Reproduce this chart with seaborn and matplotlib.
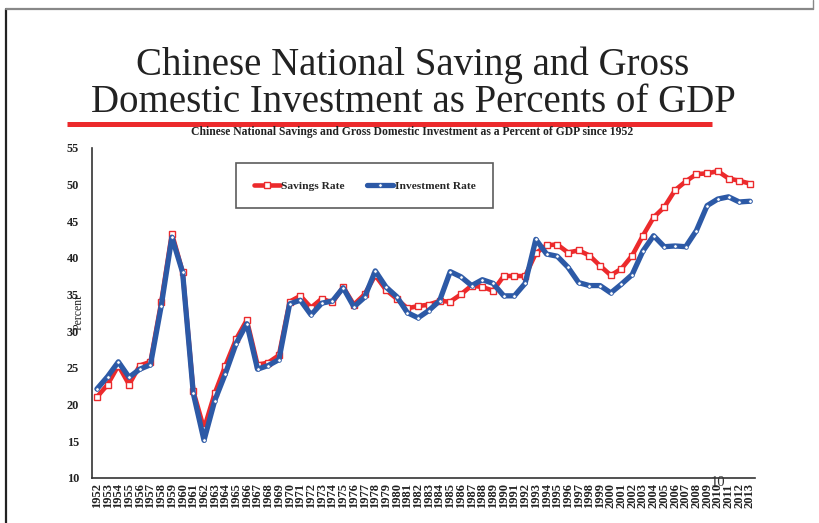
import numpy as np
import pandas as pd
import matplotlib
matplotlib.use("Agg")
import matplotlib.pyplot as plt
from matplotlib.lines import Line2D
import seaborn as sns

years = list(range(1952, 2014))

savings_rate = [
    21.0, 22.7, 25.3, 22.7, 25.3, 25.8, 33.9, 43.3, 38.1, 21.8,
    16.7, 21.5, 25.3, 28.9, 31.5, 25.4, 25.7, 26.7, 34.0, 34.8,
    33.2, 34.4, 33.9, 36.0, 33.6, 35.0, 37.6, 35.6, 34.4, 33.1,
    33.4, 33.6, 34.1, 34.0, 35.0, 36.2, 36.0, 35.5, 37.5, 37.5,
    37.5, 40.6, 41.7, 41.8, 40.7, 41.0, 40.3, 38.9, 37.6, 38.5,
    40.3, 43.0, 45.5, 46.9, 49.2, 50.4, 51.4, 51.5, 51.8, 50.8,
    50.5, 50.1,
]

investment_rate = [
    22.1, 23.8, 25.8, 23.7, 24.8, 25.4, 33.4, 42.8, 38.0, 21.5,
    15.1, 20.5, 24.2, 28.3, 31.0, 24.8, 25.3, 26.1, 33.7, 34.2,
    32.2, 33.8, 34.1, 35.9, 33.3, 34.6, 38.2, 36.0, 34.7, 32.5,
    31.8, 32.8, 34.1, 38.1, 37.4, 36.2, 37.0, 36.5, 34.8, 34.8,
    36.5, 42.5, 40.5, 40.2, 38.7, 36.6, 36.2, 36.2, 35.2, 36.4,
    37.7, 40.9, 43.0, 41.5, 41.6, 41.5, 43.7, 47.1, 48.0, 48.3,
    47.6, 47.7,
]

y_ticks = [10, 15, 20, 25, 30, 35, 40, 45, 50, 55]

df = pd.DataFrame({"year": years,
                   "Savings Rate": savings_rate,
                   "Investment Rate": investment_rate})

RED = "#ec2a2c"
BLUE = "#2c59a6"
SERIF = ["Liberation Serif", "DejaVu Serif"]

sns.set_style("white")
plt.rcParams["font.family"] = SERIF

W, H = 819, 523
fig = plt.figure(figsize=(W / 100, H / 100), dpi=100)
fig.patch.set_facecolor("white")


def fx(px):
    return px / W


def fy(py):
    return 1 - py / H


# page frame
fig.add_artist(Line2D([fx(6), fx(6)], [0, fy(9)], color="#222222", lw=1.6))
fig.add_artist(Line2D([fx(6), fx(813)], [fy(9), fy(9)], color="#888888", lw=1.6))
fig.add_artist(Line2D([fx(813), fx(813)], [fy(9), 1.0], color="#888888", lw=1.0))

# slide title
fig.text(fx(413), fy(65), "Chinese National Saving and Gross",
         ha="center", va="center", fontsize=28, color="#222222")
fig.text(fx(413), fy(103), "Domestic Investment as Percents of GDP",
         ha="center", va="center", fontsize=28, color="#222222")
fig.add_artist(Line2D([fx(67), fx(712)], [fy(124), fy(124)],
                      color=RED, lw=3.6, solid_capstyle="butt"))
fig.text(fx(412), fy(131.5),
         "Chinese National Savings and Gross Domestic Investment as a Percent of GDP since 1952",
         ha="center", va="center", fontsize=8.4, fontweight="bold", color="#222222")

ax = fig.add_axes([fx(91.6), fy(477.7), 663.7 / W, 330 / H])

sns.lineplot(data=df, x="year", y="Savings Rate", ax=ax, color=RED, lw=3.3,
             marker="s", markersize=4.6, markerfacecolor="white",
             markeredgecolor=RED, markeredgewidth=1.0, label="Savings Rate")
sns.lineplot(data=df, x="year", y="Investment Rate", ax=ax, color=BLUE, lw=3.8,
             marker="o", markersize=2.6, markerfacecolor="white",
             markeredgecolor=BLUE, markeredgewidth=0.6, label="Investment Rate")

ax.set_xlim(1951.5, 2013.5)
ax.set_ylim(10, 55)
ax.set_yticks(y_ticks)
ax.set_yticklabels([str(v) for v in y_ticks], fontweight="bold", fontsize=8.8, color="#222222")
ax.set_xticks(years)
ax.set_xticklabels([str(y) for y in years], rotation=90, fontsize=9.0, fontweight="bold",
                   color="#222222")
ax.set_xticks(np.arange(1951.5, 2014, 1.0), minor=True)
ax.tick_params(axis="x", which="major", length=0, pad=4)
ax.tick_params(axis="x", which="minor", length=3.5, direction="in", color="#333333", width=0.9)
ax.tick_params(axis="y", which="major", length=3, direction="out", color="#333333",
               width=0.9, pad=6)
ax.set_xlabel("")
ax.set_ylabel("Percent", fontsize=8.5, labelpad=-13, color="#222222")

for side in ("top", "right"):
    ax.spines[side].set_visible(False)
for side in ("left", "bottom"):
    ax.spines[side].set_color("#333333")
    ax.spines[side].set_linewidth(1.2)
ax.grid(False)

leg = ax.legend(loc="upper left", bbox_to_anchor=(fx(236), fy(163)),
                bbox_transform=fig.transFigure,
                ncol=2, frameon=True, fancybox=False,
                prop={"weight": "bold", "size": 8.2}, handlelength=2.3,
                handletextpad=0.1, columnspacing=2.0, borderpad=1.55,
                borderaxespad=0.0)
leg.get_frame().set_edgecolor("#333333")
leg.get_frame().set_linewidth(1.2)

# slide page number
fig.text(fx(718), fy(483), "10", ha="center", va="center",
         fontsize=10.5, color="#333333")

fig.savefig("out.png", dpi=100, facecolor="white")
